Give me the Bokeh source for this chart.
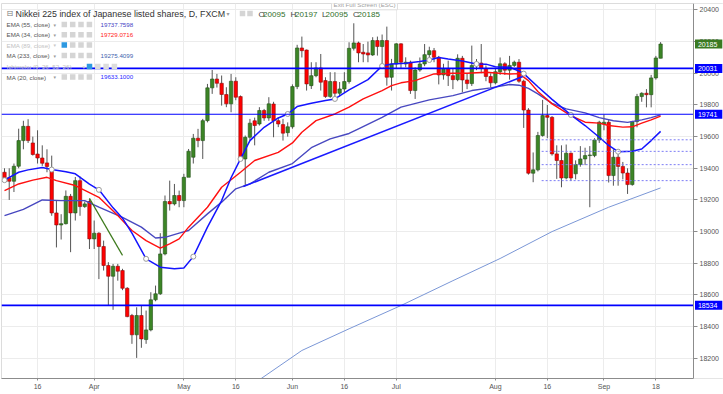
import pandas as pd
from bokeh.plotting import figure
from bokeh.models import Range1d, FixedTicker, Label, ColumnDataSource
from bokeh.embed import file_html
from bokeh.resources import INLINE

# ------------------------------------------------------------------ data
dates = [d for d in pd.bdate_range("2017-03-07", "2017-09-19") if d != pd.Timestamp("2017-04-14")]

opens = [19375, 19340, 19318, 19413, 19575, 19665, 19560, 19490, 19465, 19434,
         19392, 19118, 19042, 19050, 19223, 19118, 19322, 19158, 19190, 18954,
         18990, 18906, 18786, 18718, 18781, 18754, 18642, 18470, 18348, 18470,
         18318, 18379, 18569, 18607, 18859, 19190, 19175, 19228, 19196, 19343,
         19470, 19590, 19575, 19701, 19908, 19964, 19937, 19866, 19807, 19950,
         19853, 19459, 19596, 19700, 19680, 19765, 19718, 19806, 19701, 19676,
         19625, 19662, 19916, 20160, 20147, 19922, 19985, 20034, 19954, 19853,
         19948, 19874, 19901, 19948, 20158, 20192, 20133, 20129, 20116, 20207,
         20169, 20207, 19975, 20059, 20186, 20059, 20070, 19891, 20021, 20059,
         20118, 20143, 20101, 19990, 20030, 19985, 19960, 20095, 19958, 19935,
         20050, 20065, 20030, 19980, 19940, 20010, 20060, 20020, 20050, 20070,
         19950, 19768, 19369, 19390, 19607, 19733, 19722, 19491, 19449, 19339,
         19495, 19365, 19424, 19459, 19480, 19480, 19579, 19680, 19691, 19354,
         19470, 19412, 19370, 19297, 19695, 19853, 19874, 19865, 19971, 20095]
highs = [19400, 19400, 19430, 19650, 19700, 19710, 19600, 19640, 19545, 19520,
         19480, 19196, 19110, 19260, 19238, 19345, 19348, 19190, 19207, 19070,
         18996, 18943, 18807, 18796, 18796, 18765, 18649, 18480, 18522, 18533,
         18501, 18617, 18659, 18990, 19228, 19322, 19301, 19259, 19365, 19522,
         19617, 19649, 19712, 19933, 20021, 19996, 19986, 19912, 19996, 19975,
         19860, 19607, 19712, 19720, 19786, 19775, 19849, 19820, 19720, 19712,
         19690, 19930, 20180, 20232, 20150, 20070, 20070, 20122, 19975, 20007,
         20007, 19945, 20007, 20196, 20316, 20200, 20185, 20200, 20228, 20232,
         20245, 20295, 20091, 20190, 20190, 20101, 20080, 20038, 20100, 20185,
         20168, 20160, 20110, 20060, 20080, 20030, 20120, 20110, 20000, 20175,
         20090, 20185, 20050, 20000, 20030, 20100, 20070, 20110, 20080, 20090,
         19960, 19780, 19500, 19630, 19832, 19800, 19730, 19545, 19545, 19550,
         19500, 19450, 19540, 19530, 19540, 19590, 19700, 19740, 19705, 19520,
         19500, 19440, 19400, 19700, 19870, 19880, 19900, 19990, 20110, 20197]
lows = [19320, 19200, 19250, 19400, 19520, 19560, 19480, 19430, 19415, 19375,
        19100, 18900, 18950, 19045, 18870, 19070, 19100, 19150, 18890, 18890,
        18700, 18754, 18533, 18506, 18690, 18630, 18459, 18291, 18202, 18266,
        18291, 18370, 18560, 18600, 18850, 19133, 19165, 19154, 19154, 19407,
        19430, 19533, 19459, 19690, 19870, 19910, 19796, 19786, 19754, 19830,
        19449, 19290, 19575, 19545, 19670, 19700, 19700, 19596, 19660, 19575,
        19600, 19650, 19900, 20100, 19891, 19901, 19975, 19891, 19845, 19845,
        19838, 19853, 19880, 19935, 20144, 20070, 20070, 20070, 20110, 20112,
        20049, 19922, 19891, 20028, 20028, 20038, 19870, 19838, 20010, 20045,
        20100, 20070, 19930, 19960, 19920, 19900, 19950, 19880, 19900, 19920,
        20020, 20000, 19950, 19910, 19930, 19990, 19990, 19960, 20040, 19940,
        19655, 19360, 19312, 19380, 19600, 19590, 19480, 19333, 19280, 19330,
        19320, 19330, 19410, 19420, 19154, 19470, 19560, 19640, 19310, 19290,
        19290, 19330, 19238, 19290, 19659, 19820, 19785, 19785, 19960, 20095]
closes = [19340, 19318, 19413, 19575, 19665, 19575, 19487, 19465, 19432, 19411,
          19118, 19042, 19050, 19223, 19118, 19322, 19158, 19175, 18954, 18990,
          18906, 18786, 18718, 18781, 18750, 18642, 18463, 18348, 18470, 18322,
          18379, 18569, 18607, 18859, 19190, 19175, 19228, 19196, 19343, 19508,
          19590, 19575, 19701, 19908, 19964, 19937, 19866, 19807, 19950, 19849,
          19459, 19596, 19685, 19670, 19765, 19718, 19807, 19701, 19680, 19622,
          19662, 19916, 20160, 20143, 19933, 19985, 20034, 19944, 19853, 19948,
          19874, 19901, 19948, 20158, 20192, 20129, 20122, 20116, 20207, 20169,
          20207, 19975, 20059, 20186, 20070, 20070, 19891, 20021, 20059, 20118,
          20143, 20101, 19990, 20030, 19985, 19960, 20095, 19958, 19935, 20050,
          20065, 20030, 19980, 19940, 20010, 20060, 20020, 20050, 20070, 19950,
          19768, 19369, 19390, 19607, 19733, 19722, 19491, 19449, 19339, 19495,
          19339, 19424, 19459, 19480, 19484, 19579, 19691, 19691, 19354, 19470,
          19412, 19370, 19297, 19695, 19853, 19874, 19865, 19971, 20097, 20185]

ma20_idx = [0, 3, 5, 8, 10, 13, 15, 18, 20, 23, 25, 27, 30, 33, 36, 38, 40, 43, 46, 48,
            50, 52, 55, 58, 60, 62, 65, 68, 70, 73, 77, 80, 82, 85, 88, 90, 92, 94, 97, 100,
            102, 104, 107, 109, 110, 113, 116, 120, 123, 126, 128, 130, 133, 135, 137, 139]
ma20_val = [19325, 19375, 19390, 19405, 19392, 19378, 19365, 19300, 19264, 19150,
            19085, 18990, 18828, 18775, 18765, 18770, 18842, 19028, 19196, 19340,
            19459, 19575, 19659, 19718, 19743, 19790, 19811, 19828, 19838, 19895,
            19960, 20046, 20059, 20063, 20075, 20084, 20100, 20090, 20078, 20059,
            20058, 20042, 20038, 20015, 19998, 19915, 19835, 19737, 19670, 19596,
            19544, 19505, 19508, 19522, 19575, 19633]

ema34_idx = [0, 3, 6, 9, 11, 15, 20, 24, 27, 30, 33, 35, 37, 39, 43, 46, 50, 53, 58, 61,
             63, 66, 70, 73, 76, 80, 82, 84, 87, 91, 95, 98, 102, 107, 109, 111, 113, 116,
             120, 123, 126, 128, 131, 133, 135, 137, 139]
ema34_val = [19259, 19301, 19325, 19343, 19322, 19291, 19217, 19101, 19007, 18943,
             18895, 18922, 18954, 19028, 19154, 19280, 19375, 19449, 19501, 19560,
             19628, 19701, 19743, 19786, 19838, 19891, 19922, 19940, 19954, 19996,
             20000, 20000, 20007, 19996, 19998, 19954, 19885, 19807, 19733, 19691,
             19685, 19670, 19660, 19662, 19685, 19706, 19729]

ema55_idx = [0, 4, 8, 12, 17, 20, 25, 29, 32, 34, 37, 39, 43, 46, 49, 52, 56, 61, 65, 69,
             73, 75, 80, 84, 90, 95, 99, 103, 107, 109, 111, 113, 116, 119, 123, 126, 129,
             132, 135, 137, 139]
ema55_val = [19101, 19140, 19200, 19196, 19196, 19154, 19090, 19028, 18960, 18964,
             18990, 19007, 19112, 19186, 19270, 19301, 19375, 19430, 19530, 19586,
             19620, 19649, 19722, 19786, 19832, 19859, 19891, 19908, 19929, 19925,
             19905, 19870, 19810, 19775, 19750, 19720, 19700, 19690, 19706, 19720, 19737]

ma233_idx = [50, 54, 63, 73, 84, 95, 105, 116, 128, 139]
ma233_val = [18010, 18064, 18249, 18386, 18533, 18690, 18830, 19000, 19154, 19276]

trend_idx = [50.6, 109.8]
trend_val = [19285, 19980]
green_idx = [18, 25]
green_val = [19210, 18850]

levels = [20031, 19741, 18534]
dotted_levels = [19580, 19507, 19423, 19322]

tick_dates = ["2017-03-16", "2017-04-03", "2017-05-01", "2017-05-16", "2017-06-01",
              "2017-06-16", "2017-07-03", "2017-08-01", "2017-08-16", "2017-09-01", "2017-09-18"]
tick_labels = ["16", "Apr", "May", "16", "Jun", "16", "Jul", "Aug", "16", "Sep", "18"]
price_ticks = list(range(18200, 20401, 200))

legend_names = ["EMA (55, close)", "EMA (34, close)", "EMA (89, close)", "MA (233, close)",
                "Ichimoku (9, 26, 52, 26)", "MA (20, close)"]
legend_values = ["19737.7598", "19729.0716", "", "19275.4099", "", "19633.1000"]
title_text = "Nikkei 225 index of Japanese listed shares, D, FXCM"
ohlc_letters = ["O", "H", "L", "C"]
ohlc_values = ["20095", "20197", "20095", "20185"]
last_close = 20185

# ------------------------------------------------------------------ layout
W, H = 723, 394
BL, BT, BB = 1, 3, 16
FH = H - BT - BB
AXIS_PX = 693                      # pixel column of the price axis
X0 = -0.636
S = (145.97 - X0) / (AXIS_PX - BL)  # index units per pixel
XEND = X0 + (W - BL) * S
Y0, Y1 = 18072.0, 20441.0


def X(px):
    return X0 + (px - BL) * S


def Y(py):
    return Y1 - (py - BT) * (Y1 - Y0) / FH


def PY(v):
    return BT + (Y1 - v) * FH / (Y1 - Y0)


FONT = "Liberation Sans"

p = figure(width=W, height=H, x_range=Range1d(X0, XEND), y_range=Range1d(Y0, Y1),
           y_axis_location="right", toolbar_location=None, output_backend="svg",
           min_border_left=BL, min_border_right=0, min_border_top=BT, min_border_bottom=BB)
p.background_fill_color = "white"
p.border_fill_color = "white"
p.outline_line_color = "#dcdcdc"

# axes
tick_idx = [dates.index(pd.Timestamp(d)) for d in tick_dates]
p.xaxis.ticker = FixedTicker(ticks=tick_idx)
p.xaxis.major_label_overrides = {i: t for i, t in zip(tick_idx, tick_labels)}
p.xaxis.bounds = (X0, X(AXIS_PX))
p.yaxis.ticker = FixedTicker(ticks=price_ticks)
p.yaxis.fixed_location = X(AXIS_PX)
for ax in (p.xaxis[0], p.yaxis[0]):
    ax.axis_line_color = "#8c8c8c"
    ax.major_tick_line_color = "#8c8c8c"
    ax.minor_tick_line_color = None
    ax.major_tick_in = 0
    ax.major_label_text_font = FONT
    ax.major_label_text_font_size = "7px"
    ax.major_label_text_color = "#555555"
p.xaxis.major_tick_out = 2
p.xaxis.major_label_standoff = 2
p.yaxis.major_tick_out = 4
p.yaxis.major_label_standoff = 2

p.xgrid.ticker = FixedTicker(ticks=tick_idx)
p.ygrid.ticker = FixedTicker(ticks=price_ticks)
p.xgrid.grid_line_color = "#ececec"
p.ygrid.grid_line_color = "#ececec"

# white strip behind the price scale (hides grid lines there)
p.quad(left=[X(AXIS_PX)], right=[XEND], bottom=[Y0], top=[Y1],
       fill_color="white", line_color=None)

# candles
n = len(dates)
up = [c >= o for o, c in zip(opens, closes)]
src = ColumnDataSource(dict(
    x=list(range(n)), h=highs, l=lows,
    top=[max(o, c) for o, c in zip(opens, closes)],
    bottom=[min(o, c) for o, c in zip(opens, closes)],
    fill=["#3c8526" if u else "#ff0000" for u in up],
    line=["#24501a" if u else "#8a0d0d" for u in up],
))
p.segment(x0="x", y0="h", x1="x", y1="l", source=src, line_color="#555555", line_width=1)
p.vbar(x="x", width=0.72, top="top", bottom="bottom", fill_color="fill",
       line_color="line", line_width=0.6, source=src)

# indicator lines
p.line(ma233_idx, ma233_val, line_color="#7b97d6", line_width=1)
p.line(ema55_idx, ema55_val, line_color="#4848c0", line_width=1.4)
p.line(ema34_idx, ema34_val, line_color="#ff1010", line_width=1.4)
p.line(ma20_idx, ma20_val, line_color="#1414ff", line_width=1.5)
mk = [(i, v) for i, v in zip(ma20_idx, ma20_val) if i % 10 == 0]
p.scatter([m[0] for m in mk], [m[1] for m in mk], marker="circle", size=5,
          fill_color="white", line_color="#9a9a9a", line_width=1)

# drawings
p.line(trend_idx, trend_val, line_color="#1a1aff", line_width=1.6)
p.line(green_idx, green_val, line_color="#3d7a1c", line_width=1.2)
for lv in dotted_levels:
    p.segment(x0=[113.8], y0=[lv], x1=[X(AXIS_PX - 1)], y1=[lv], line_color="#7c7cf5",
              line_width=1, line_dash="2 2")
for lv, lw in zip(levels, [1.6, 1.1, 1.6]):
    p.segment(x0=[X0], y0=[lv], x1=[X(AXIS_PX)], y1=[lv], line_color="#0000ff", line_width=lw)


def label(px, py, text, color, size, font=FONT, align="left", **kw):
    p.add_layout(Label(x=X(px), y=Y(py), text=text, text_color=color,
                       text_font_size=f"{size}px", text_font=font, text_align=align,
                       text_baseline="middle", **kw))


# price boxes on the scale
NB = "\u00a0"
for lv in levels:
    label(694.5, PY(lv), NB + str(lv) + NB + NB, "white", 7,
          background_fill_color="#0000ff", padding=1)
label(694.5, PY(last_close), NB + str(last_close) + NB + NB, "white", 7,
      background_fill_color="#3a7a22", padding=1)

# legend header
label(6, 13, "\u229f", "#777777", 8, font="DejaVu Sans")
label(15, 13, title_text, "#333333", 8.9)
label(226, 13, "\u25be", "#999999", 6, font="DejaVu Sans")
p.scatter([X(242), X(249.5)], [Y(13), Y(13)], marker="square", size=5.5,
          fill_color="#d5d5d5", line_color=None)
ohlc_x = [258, 290, 321.5, 352.5]
for lx, lt, lv in zip(ohlc_x, ohlc_letters, ohlc_values):
    label(lx, 13.7, lt, "#444444", 8)
    label(lx + 4.6 if lt != "L" else lx + 3.6, 13.7, lv, "#2f6f2a", 8)

# legend rows
row_y = [24, 34.3, 44.5, 55, 66, 76.5]
val_colors = ["#4242c4", "#ff1a1a", "#bbbbbb", "#3f5fae", "#bbbbbb", "#1f1fff"]
faded = [False, False, True, False, True, False]
for name, val, vc, fd, ry in zip(legend_names, legend_values, val_colors, faded, row_y):
    label(6, ry, name, "#c2c2c2" if fd else "#555555", 6.2)
    if name.startswith("Ichimoku"):
        label(82, ry, "\u25be", "#c8c8c8", 5, font="DejaVu Sans")
        ix = [89, 97.3, 105.6, 113.9]
        cols = ["#2d98e0", "#dcdcdc", "#dcdcdc", "#dcdcdc"]
    else:
        label(53, ry, "\u25be", "#c8c8c8" if fd else "#999999", 5, font="DejaVu Sans")
        ix = [63.8, 72.2, 80.5, 88.9]
        cols = ["#2d98e0" if fd else "#d5d5d5", "#d5d5d5", "#d5d5d5", "#d5d5d5"]
    p.scatter([X(v) for v in ix], [Y(ry)] * len(ix), marker="square", size=5.5,
              fill_color=cols, line_color=None)
    if val:
        label(100, ry, val, vc, 6.2)

# exit full screen tooltip
label(364, 3.8, "Exit Full Screen (ESC)", "#a0a0a0", 6.2, align="center",
      background_fill_color="white", border_line_color="#dddddd", padding=2)

open("out.html", "w").write(file_html(p, INLINE))
